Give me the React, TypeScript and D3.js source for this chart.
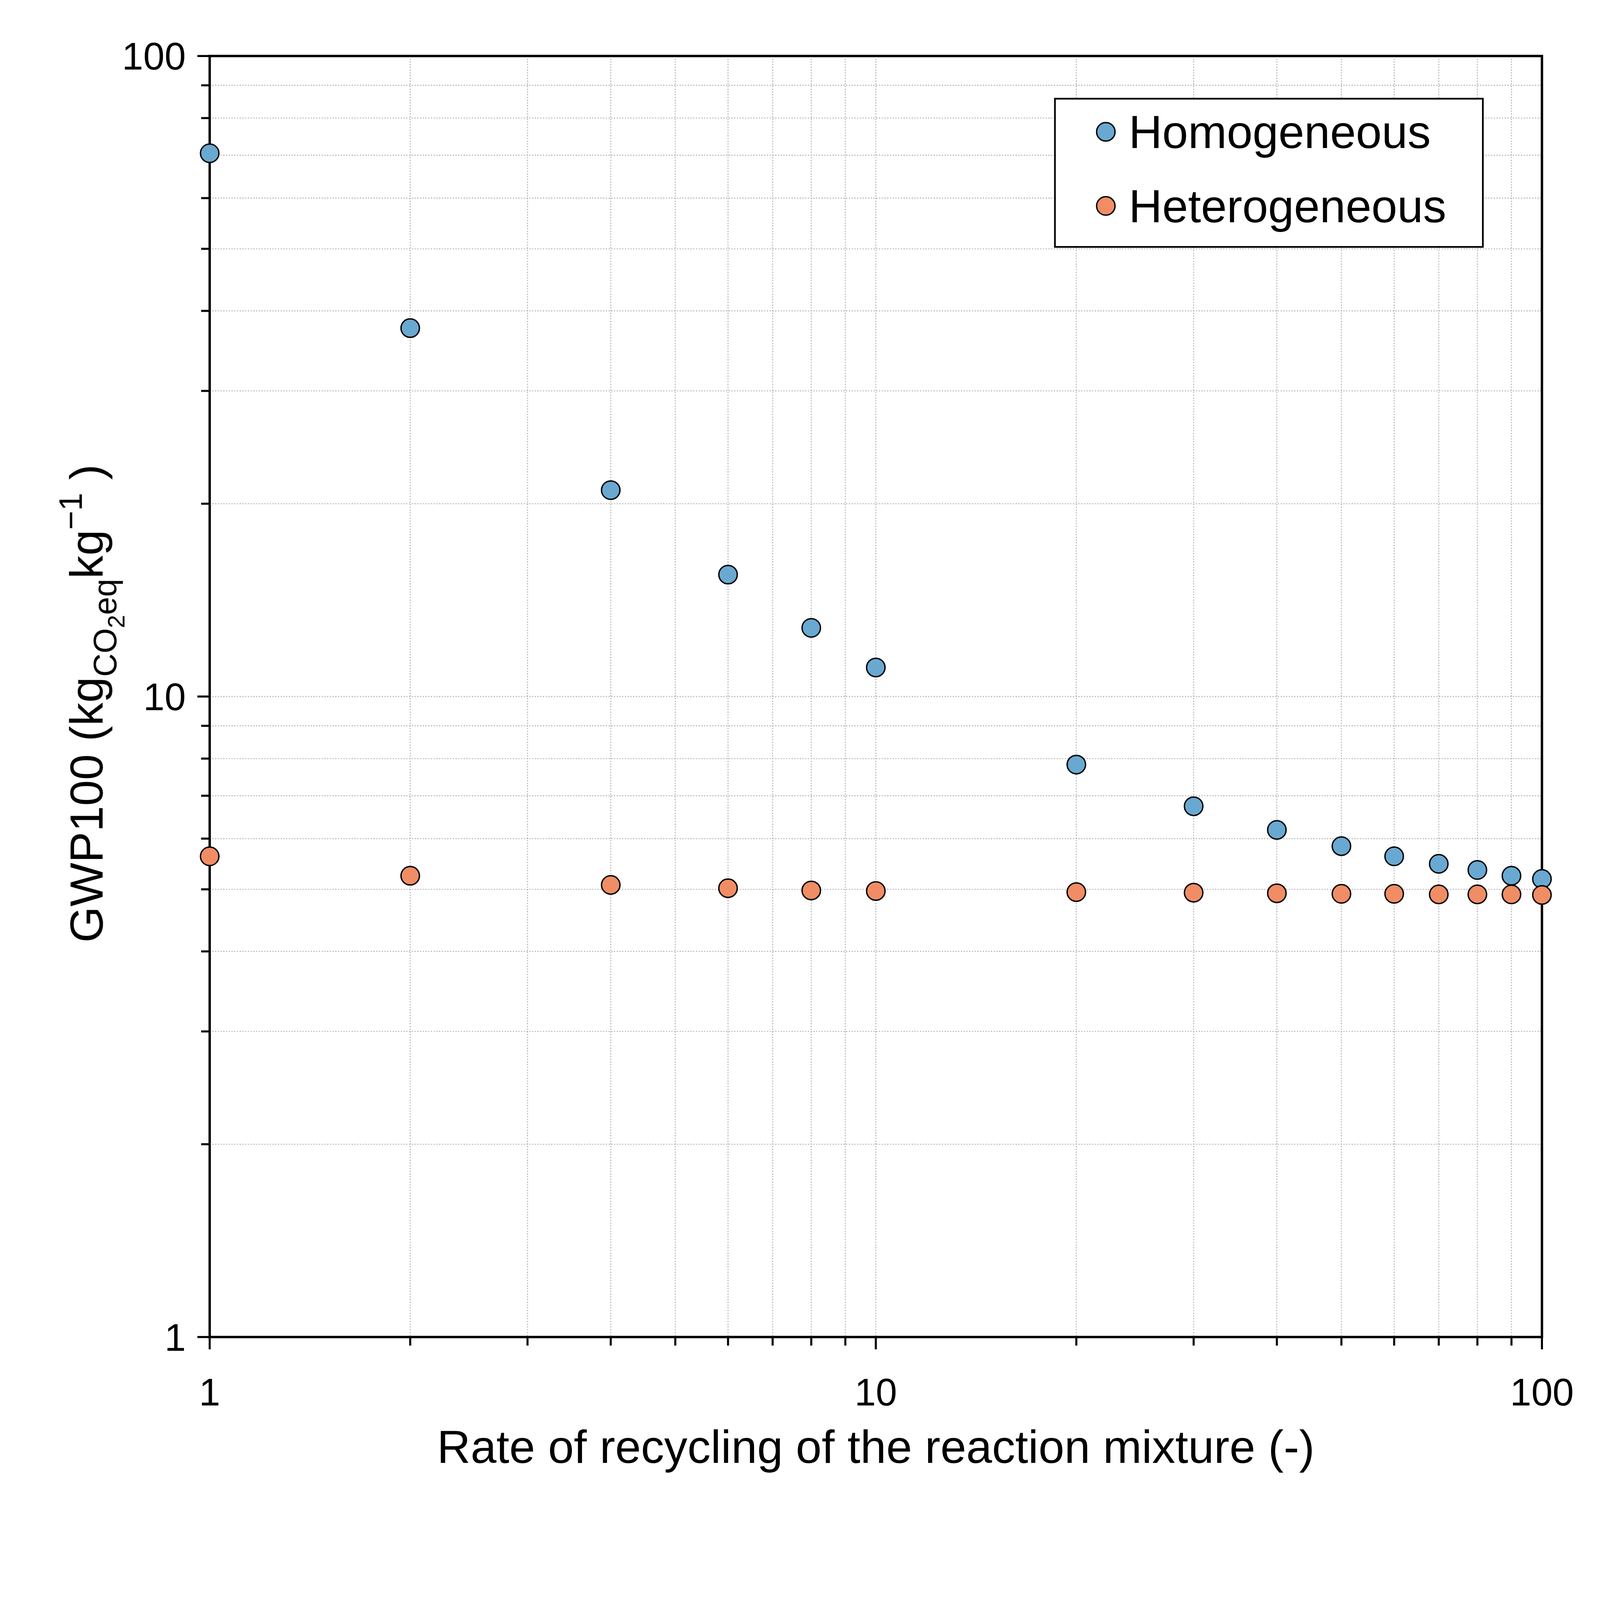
import React, { useEffect, useRef } from "react";
import * as d3 from "d3";

const rates = [1, 2, 4, 6, 8, 10, 20, 30, 40, 50, 60, 70, 80, 90, 100];
const homogeneous = [70.5, 37.6, 21.0, 15.5, 12.8, 11.1, 7.83, 6.74, 6.19, 5.84, 5.63, 5.48, 5.36, 5.25, 5.19];
const heterogeneous = [5.63, 5.25, 5.08, 5.02, 4.98, 4.97, 4.95, 4.94, 4.93, 4.92, 4.92, 4.91, 4.91, 4.91, 4.9];
const seriesNames = ["Homogeneous", "Heterogeneous"];
const seriesColors = ["#69a9d1", "#f08d65"];
const majorTicks = [1, 10, 100];

export default function App() {
  const svgRef = useRef<SVGSVGElement>(null);

  useEffect(() => {
    const W = 4685, H = 4432;
    const m = { left: 614, right: 4515, top: 164, bottom: 3915 };
    const svg = d3.select(svgRef.current!);
    svg.selectAll("*").remove();
    svg.attr("viewBox", `0 0 ${W} ${H}`).attr("preserveAspectRatio", "xMinYMin meet")
      .style("font-family", "'Liberation Sans', Arial, sans-serif");
    svg.append("rect").attr("width", W).attr("height", H).attr("fill", "white");

    const x = d3.scaleLog().domain([1, 100]).range([m.left, m.right]);
    const y = d3.scaleLog().domain([1, 100]).range([m.bottom, m.top]);

    const allTicks: number[] = [];
    for (const d of [1, 10]) for (let k = 1; k <= 10; k++) allTicks.push(d * k);
    const uniq = Array.from(new Set(allTicks));
    const inner = uniq.filter((v) => v > 1 && v < 100);

    // dotted grid at every major and minor tick
    const grid = svg.append("g").attr("stroke", "#aaa").attr("stroke-width", 3).attr("stroke-dasharray", "3,5");
    inner.forEach((v) => {
      grid.append("line").attr("x1", x(v)).attr("x2", x(v)).attr("y1", m.top).attr("y2", m.bottom);
      grid.append("line").attr("y1", y(v)).attr("y2", y(v)).attr("x1", m.left).attr("x2", m.right);
    });

    const ax = svg.append("g").attr("stroke", "black").attr("stroke-width", 6);
    uniq.forEach((v) => {
      const len = majorTicks.includes(v) ? 36 : 25;
      ax.append("line").attr("x1", x(v)).attr("x2", x(v)).attr("y1", m.bottom).attr("y2", m.bottom + len);
      ax.append("line").attr("y1", y(v)).attr("y2", y(v)).attr("x1", m.left).attr("x2", m.left - len);
    });
    svg.append("rect").attr("x", m.left).attr("y", m.top).attr("width", m.right - m.left).attr("height", m.bottom - m.top)
      .attr("fill", "none").attr("stroke", "black").attr("stroke-width", 7);

    majorTicks.forEach((v) => {
      svg.append("text").attr("x", x(v)).attr("y", m.bottom + 200).attr("text-anchor", "middle")
        .attr("font-size", 112).text(String(v));
      svg.append("text").attr("x", m.left - 70).attr("y", y(v) + 40).attr("text-anchor", "end")
        .attr("font-size", 112).text(String(v));
    });

    svg.append("text").attr("x", (m.left + m.right) / 2).attr("y", 4284).attr("text-anchor", "middle")
      .attr("font-size", 136).text("Rate of recycling of the reaction mixture (-)");

    const yl = svg.append("text").attr("transform", `translate(300,2060) rotate(-90)`)
      .attr("text-anchor", "middle").attr("font-size", 136);
    yl.append("tspan").text("GWP100 (kg");
    yl.append("tspan").attr("font-size", 95).attr("dy", 40).text("CO");
    yl.append("tspan").attr("font-size", 70).attr("dy", 25).text("2");
    yl.append("tspan").attr("font-size", 95).attr("dy", -25).text("eq");
    yl.append("tspan").attr("dy", -40).text("kg");
    yl.append("tspan").attr("font-size", 95).attr("dy", -60).text("−1");
    yl.append("tspan").attr("dy", 60).text(" )");

    [homogeneous, heterogeneous].forEach((vals, i) => {
      svg.append("g").selectAll("circle").data(vals).enter().append("circle")
        .attr("cx", (_d, j) => x(rates[j])).attr("cy", (d) => y(d)).attr("r", 27)
        .attr("fill", seriesColors[i]).attr("stroke", "black").attr("stroke-width", 4);
    });

    svg.append("rect").attr("x", 3089).attr("y", 289).attr("width", 1253).attr("height", 434)
      .attr("fill", "white").attr("stroke", "black").attr("stroke-width", 5);
    seriesNames.forEach((n, i) => {
      const cy = 386 + i * 217;
      svg.append("circle").attr("cx", 3238).attr("cy", cy).attr("r", 27)
        .attr("fill", seriesColors[i]).attr("stroke", "black").attr("stroke-width", 4);
      svg.append("text").attr("x", 3305).attr("y", cy + 48).attr("font-size", 136).text(n);
    });
  }, []);

  return (
    <svg
      ref={svgRef}
      style={{ position: "fixed", left: 0, top: 0, width: "100vw", height: "100vh", display: "block" }}
    ></svg>
  );
}
